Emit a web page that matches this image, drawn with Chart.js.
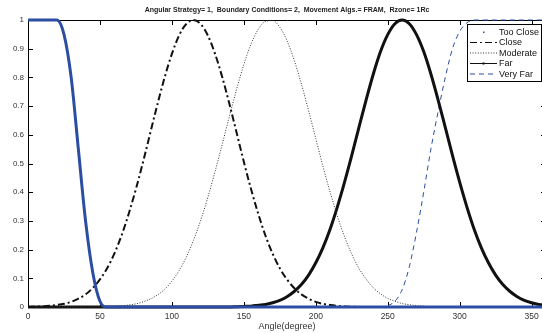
<!DOCTYPE html>
<html>
<head>
<meta charset="utf-8">
<script src="https://cdn.jsdelivr.net/npm/chart.js@4/dist/chart.umd.min.js"></script>
<style>
  html, body { margin: 0; padding: 0; background: #fff; overflow: hidden; width: 542px; height: 333px; }
  canvas { display: block; }
</style>
</head>
<body>
<canvas id="membership" width="548" height="333"></canvas>
<script>
// angle samples (degrees), 5 degree step
const angles = [0,5,10,15,20,25,30,35,40,45,
  50,55,60,65,70,75,80,85,90,95,
  100,105,110,115,120,125,130,135,140,145,
  150,155,160,165,170,175,180,185,190,195,
  200,205,210,215,220,225,230,235,240,245,
  250,255,260,265,270,275,280,285,290,295,
  300,305,310,315,320,325,330,335,340,345,
  350,355,360]

// membership values
const tooClose = [1,1,1,1,1,0.95,0.80,0.55,0.30,0.12,
  0.02,0,0,0,0,0,0,0,0,0,
  0,0,0,0,0,0,0,0,0,0,
  0,0,0,0,0,0,0,0,0,0,
  0,0,0,0,0,0,0,0,0,0,
  0,0,0,0,0,0,0,0,0,0,
  0,0,0,0,0,0,0,0,0,0,
  0,0,0]
const close = [0,0.001,0.002,0.004,0.007,0.011,0.018,0.029,0.044,0.066,
  0.096,0.135,0.186,0.249,0.325,0.411,0.506,0.607,0.707,0.801,
  0.882,0.946,0.986,1,0.986,0.946,0.882,0.801,0.707,0.607,
  0.506,0.411,0.325,0.249,0.186,0.135,0.096,0.066,0.044,0.029,
  0.018,0.011,0.007,0.004,0.002,0.001,0,0,0,0,
  0,0,0,0,0,0,0,0,0,0,
  0,0,0,0,0,0,0,0,0,0,
  0,0,0]
const moderate = [0,0,0,0,0,0,0,0,0,0,
  0,0.001,0.002,0.004,0.007,0.011,0.018,0.028,0.042,0.062,
  0.090,0.127,0.174,0.232,0.302,0.382,0.472,0.567,0.665,0.759,
  0.845,0.916,0.967,0.995,0.998,0.975,0.928,0.860,0.777,0.684,
  0.587,0.490,0.400,0.317,0.245,0.184,0.135,0.097,0.067,0.046,
  0.030,0.020,0.012,0.008,0.005,0.003,0.001,0,0,0,
  0,0,0,0,0,0,0,0,0,0,
  0,0,0]
const far = [0,0,0,0,0,0,0,0,0,0,
  0,0,0,0,0,0,0,0,0,0,
  0,0,0,0,0,0,0,0,0,0.001,
  0.002,0.003,0.006,0.009,0.015,0.023,0.036,0.054,0.078,0.111,
  0.154,0.207,0.272,0.349,0.435,0.528,0.626,0.722,0.812,0.890,
  0.949,0.987,1,0.987,0.949,0.890,0.812,0.722,0.626,0.528,
  0.435,0.349,0.272,0.207,0.154,0.111,0.078,0.054,0.036,0.023,
  0.015,0.009,0.006]
const veryFar = [0,0,0,0,0,0,0,0,0,0,
  0,0,0,0,0,0,0,0,0,0,
  0,0,0,0,0,0,0,0,0,0,
  0,0,0,0,0,0,0,0,0,0,
  0,0,0,0,0,0,0,0,0,0,
  0.005,0.02,0.06,0.14,0.26,0.40,0.55,0.68,0.80,0.90,
  0.96,0.99,1,1,1,1,1,1,1,1,
  1,1,1]

const xTicks = [0,50,100,150,200,250,300,350]
const yTicks = [0,0.1,0.2,0.3,0.4,0.5,0.6,0.7,0.8,0.9,1]
const titleText = "Angular Strategy= 1,  Boundary Conditions= 2,  Movement Algs.= FRAM,  Rzone= 1Rc"

const BLUE = "#2b4ea3"
const pts = vals => angles.map((a, i) => ({x: a, y: vals[i]}))

Chart.defaults.font.family = "'Liberation Sans', Arial, sans-serif"
Chart.defaults.color = "#222"

// MATLAB style box with inward ticks
const framePlugin = {
    id: "frame",
    beforeDatasetsDraw(chart) {
        const {ctx, chartArea: a, scales} = chart
        ctx.save()
        ctx.strokeStyle = "#000"
        ctx.lineWidth = 1
        ctx.beginPath()
        ctx.moveTo(a.left + 0.5, a.top + 0.5)
        ctx.lineTo(a.right, a.top + 0.5)
        ctx.moveTo(a.left + 0.5, a.top)
        ctx.lineTo(a.left + 0.5, a.bottom)
        ctx.moveTo(a.left, a.bottom - 0.5)
        ctx.lineTo(a.right, a.bottom - 0.5)
        ctx.moveTo(a.right - 0.5, a.top)
        ctx.lineTo(a.right - 0.5, a.bottom)
        xTicks.forEach(v => {
            const x = Math.round(scales.x.getPixelForValue(v)) + 0.5
            ctx.moveTo(x, a.bottom); ctx.lineTo(x, a.bottom - 5)
            ctx.moveTo(x, a.top); ctx.lineTo(x, a.top + 5)
        })
        yTicks.forEach(v => {
            const y = Math.round(scales.y.getPixelForValue(v)) + 0.5
            ctx.moveTo(a.left, y); ctx.lineTo(a.left + 5, y)
            ctx.moveTo(a.right, y); ctx.lineTo(a.right - 5, y)
        })
        ctx.stroke()
        ctx.restore()
    }
}

// boxed legend in the upper right corner
const legendPlugin = {
    id: "boxLegend",
    afterDraw(chart) {
        const ctx = chart.ctx
        const x0 = 467, y0 = 24, w = 74, h = 57
        ctx.save()
        ctx.fillStyle = "#fff"
        ctx.fillRect(x0, y0, w, h)
        ctx.strokeStyle = "#000"
        ctx.lineWidth = 1
        ctx.strokeRect(x0 + 0.5, y0 + 0.5, w, h)
        ctx.font = "9px 'Liberation Sans', Arial, sans-serif"
        ctx.textBaseline = "middle"
        chart.data.datasets.forEach((ds, i) => {
            const y = y0 + 8 + i * 10.5
            ctx.strokeStyle = ds.borderColor
            ctx.fillStyle = ds.borderColor
            if (i === 0) {
                ctx.fillRect(483, y - 0.5, 1.5, 1.5)
            } else {
                ctx.lineWidth = 1
                ctx.setLineDash(ds.borderDash || [])
                ctx.beginPath()
                ctx.moveTo(470, y); ctx.lineTo(497, y)
                ctx.stroke()
                ctx.setLineDash([])
                if (i === 3) ctx.fillRect(482.5, y - 1, 2, 2)
            }
            ctx.fillStyle = "#111"
            ctx.fillText(ds.label, 499, y + 0.5)
        })
        ctx.restore()
    }
}

new Chart(document.getElementById("membership"), {
    type: "line",
    data: {
        datasets: [
            {label: "Too Close", data: pts(tooClose), borderColor: BLUE, borderWidth: 3},
            {label: "Close", data: pts(close), borderColor: "#111", borderWidth: 2, borderDash: [7, 3, 2, 3]},
            {label: "Moderate", data: pts(moderate), borderColor: "#333", borderWidth: 1, borderDash: [1, 1.6]},
            {label: "Far", data: pts(far), borderColor: "#111", borderWidth: 3},
            {label: "Very Far", data: pts(veryFar), borderColor: BLUE, borderWidth: 1, borderDash: [5, 4]}
        ]
    },
    options: {
        responsive: false,
        animation: false,
        layout: {padding: {left: 0, right: 2, top: 0, bottom: 0}},
        elements: {
            point: {radius: 0},
            line: {cubicInterpolationMode: "monotone", fill: false}
        },
        datasets: {line: {clip: 6}},
        plugins: {
            legend: {display: false},
            tooltip: {enabled: false},
            title: {
                display: true,
                fullSize: false,
                text: titleText,
                color: "#222",
                font: {size: 7, weight: "bold"},
                padding: {top: 6, bottom: 5.6}
            }
        },
        scales: {
            x: {
                type: "linear",
                min: 0,
                max: 360,
                grid: {display: false, drawTicks: false},
                border: {display: false},
                afterBuildTicks: s => { s.ticks = xTicks.map(v => ({value: v})) },
                afterFit: s => { s.height = 26 },
                ticks: {font: {size: 8.5}, color: "#333", padding: 5, maxRotation: 0, autoSkip: false},
                title: {display: true, text: "Angle(degree)", font: {size: 9}, color: "#333", padding: {top: 0, bottom: 1}}
            },
            y: {
                min: 0,
                max: 1,
                grid: {display: false, drawTicks: false},
                border: {display: false},
                afterBuildTicks: s => { s.ticks = yTicks.map(v => ({value: v})) },
                afterFit: s => { s.width = 28 },
                ticks: {font: {size: 8}, color: "#333", padding: 4, callback: v => String(Math.round(v * 10) / 10)}
            }
        }
    },
    plugins: [framePlugin, legendPlugin]
})
</script>
</body>
</html>
